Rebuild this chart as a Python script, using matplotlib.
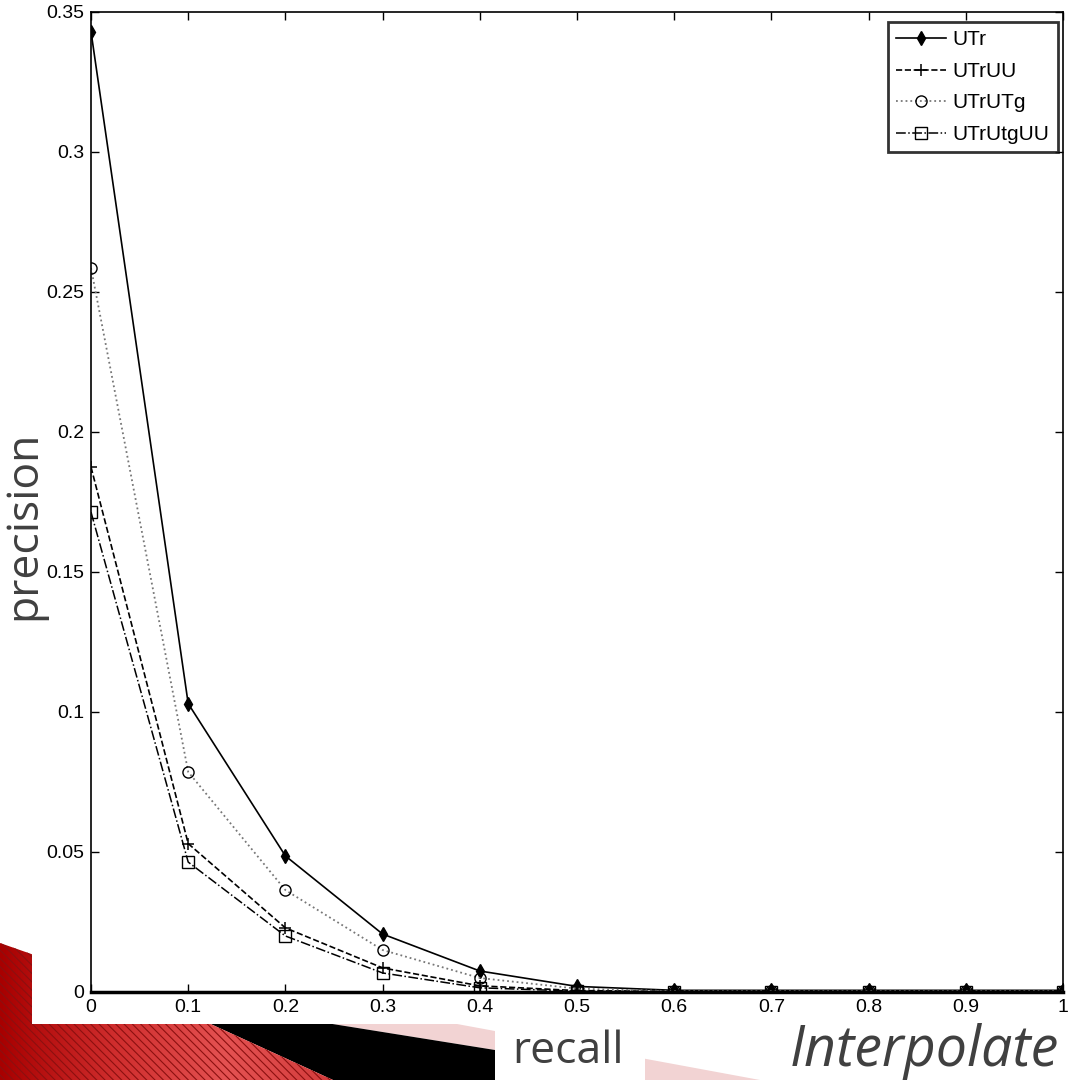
import numpy as np
import matplotlib
matplotlib.use("Agg")
import matplotlib.pyplot as plt
from matplotlib.patches import Polygon, Rectangle
from matplotlib.colors import LinearSegmentedColormap

# --- Data -----------------------------------------------------------------
recall = [0.0, 0.1, 0.2, 0.3, 0.4, 0.5, 0.6, 0.7, 0.8, 0.9, 1.0]
utr = [0.343, 0.103, 0.0486, 0.0207, 0.0075, 0.0020, 0.0006, 0.0006, 0.0006, 0.0006, 0.0006]
utr_uu = [0.1875, 0.053, 0.0229, 0.0086, 0.0022, 0.0005, 0.0002, 0.0002, 0.0002, 0.0002, 0.0002]
utr_utg = [0.2586, 0.0786, 0.0364, 0.0150, 0.0050, 0.0012, 0.0003, 0.0003, 0.0003, 0.0003, 0.0003]
utr_utg_uu = [0.1714, 0.0464, 0.0200, 0.0068, 0.0015, 0.0003, 0.0001, 0.0001, 0.0001, 0.0001, 0.0001]

series_labels = ["UTr", "UTrUU", "UTrUTg", "UTrUtgUU"]
x_ticks = [0, 0.1, 0.2, 0.3, 0.4, 0.5, 0.6, 0.7, 0.8, 0.9, 1]
x_ticklabels = ["0", "0.1", "0.2", "0.3", "0.4", "0.5", "0.6", "0.7", "0.8", "0.9", "1"]
y_ticks = [0, 0.05, 0.1, 0.15, 0.2, 0.25, 0.3, 0.35]
y_ticklabels = ["0", "0.05", "0.1", "0.15", "0.2", "0.25", "0.3", "0.35"]

W, H = 1068, 1080
NARROW = ["Liberation Sans", "DejaVu Sans"]
SLIDE = ["Open Sans", "DejaVu Sans"]

fig = plt.figure(figsize=(W / 100, H / 100), dpi=100)
fig.patch.set_facecolor("white")

# --- Slide background decoration (pixel coordinates) ----------------------
bg = fig.add_axes([0, 0, 1, 1], zorder=-5)
bg.set_xlim(0, W)
bg.set_ylim(H, 0)
bg.axis("off")

pink = Polygon([(100, 958), (760, 1080), (495, 1080), (495, 1050), (145, 994)],
               closed=True, facecolor="#f2d3d3", edgecolor="none", zorder=1)
bg.add_patch(pink)
black = Polygon([(145, 994), (495, 1050), (495, 1080), (333, 1080)],
                closed=True, facecolor="black", edgecolor="none", zorder=2)
bg.add_patch(black)
red_pts = [(0, 943), (145, 994), (333, 1080), (0, 1080)]
red = Polygon(red_pts, closed=True, facecolor="none", edgecolor="none", zorder=3)
bg.add_patch(red)
reds = LinearSegmentedColormap.from_list("reds", ["#a80000", "#cf2d2d", "#e45252", "#d23a3a"])
grad = np.linspace(0, 1, 256).reshape(1, -1)
img = bg.imshow(grad, cmap=reds, extent=(0, 340, 1080, 940), aspect="auto", zorder=3)
img.set_clip_path(red)
plt.rcParams["hatch.linewidth"] = 0.8
stripes = Polygon(red_pts, closed=True, facecolor="none", edgecolor="#8c1010",
                  hatch="\\" * 4, linewidth=0, zorder=4)
bg.add_patch(stripes)
bg.add_patch(Rectangle((32, 0), W - 32, 1024, facecolor="white", edgecolor="none", zorder=5))
bg.add_patch(Rectangle((495, 1024), 150, 56, facecolor="white", edgecolor="none", zorder=5))

bg.text(568, 1052, "recall", fontsize=32, family=SLIDE, color="#404040",
        ha="center", va="center", zorder=6)
bg.text(790, 1052, "Interpolate", fontsize=40, family=SLIDE, color="#404040",
        style="italic", ha="left", va="center", zorder=6)
bg.text(24, 525, "precision", fontsize=32, family=SLIDE, color="#404040",
        rotation=90, ha="center", va="center", zorder=6)

# --- Main plot ------------------------------------------------------------
ax = fig.add_axes([91 / W, 1 - 992 / H, (1063 - 91) / W, (992 - 12) / H])
ax.set_facecolor("white")

ax.plot(recall, utr, "-", color="black", lw=1.2, marker="d", ms=7,
        mfc="black", mec="black", label=series_labels[0])
ax.plot(recall, utr_uu, "--", color="black", lw=1.2, marker="+", ms=9,
        mew=1.1, label=series_labels[1])
ax.plot(recall, utr_utg, ":", color="#777777", lw=1.3, marker="o", ms=8,
        mfc="none", mec="black", mew=1.0, label=series_labels[2])
ax.plot(recall, utr_utg_uu, "-.", color="black", lw=1.1, marker="s", ms=8,
        mfc="none", mec="black", mew=1.0, label=series_labels[3])

ax.set_xlim(0, 1)
ax.set_ylim(0, 0.35)
ax.set_xticks(x_ticks)
ax.set_xticklabels(x_ticklabels)
ax.set_yticks(y_ticks)
ax.set_yticklabels(y_ticklabels)
ax.tick_params(direction="in", length=6, width=1, top=True, right=True,
               labelsize=14, pad=5)
for lab in ax.get_xticklabels() + ax.get_yticklabels():
    lab.set_family(NARROW)
for side in ax.spines.values():
    side.set_linewidth(1.2)
ax.spines["bottom"].set_linewidth(2.5)

leg = ax.legend(loc="upper right", bbox_to_anchor=(0.9948, 0.9898),
                prop={"family": NARROW, "size": 15}, frameon=True,
                fancybox=False, handlelength=2.4, handletextpad=0.3,
                labelspacing=0.6, borderpad=0.4, borderaxespad=0)
leg.get_frame().set_edgecolor("black")
leg.get_frame().set_linewidth(2)

fig.savefig("out.png", dpi=100, facecolor="white")
